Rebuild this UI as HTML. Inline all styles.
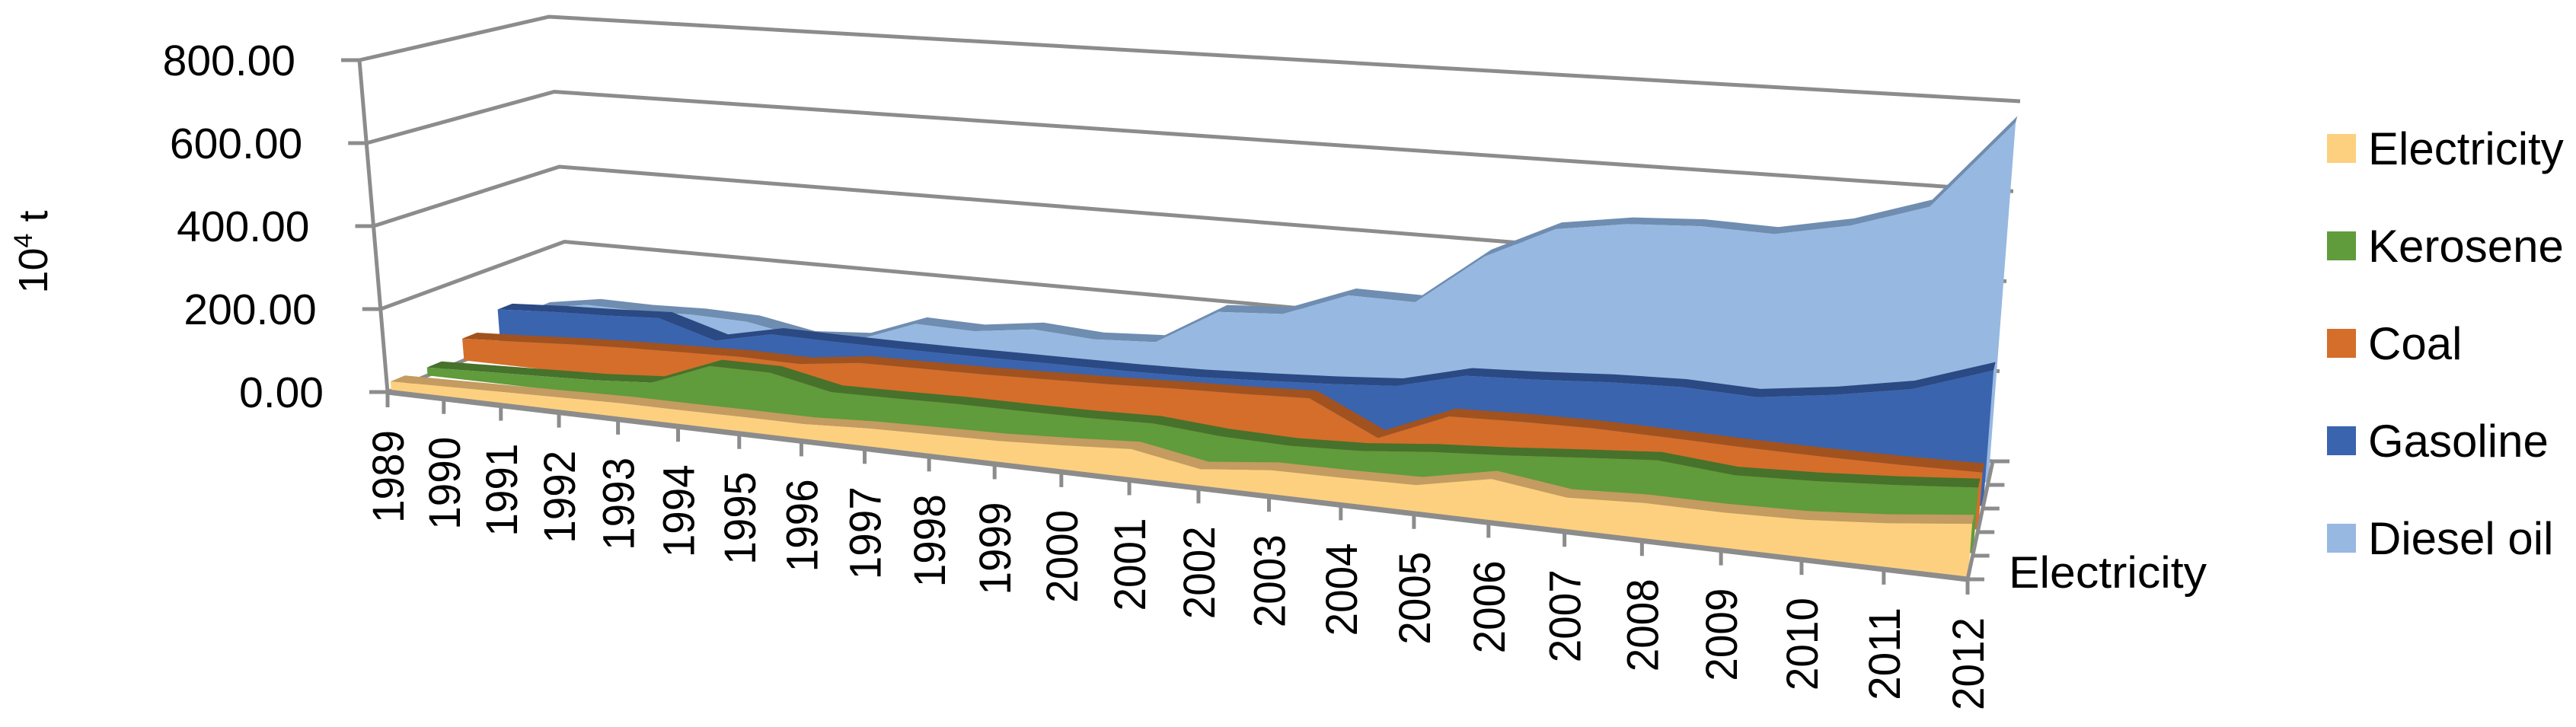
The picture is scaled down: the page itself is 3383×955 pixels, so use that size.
<!DOCTYPE html>
<html><head><meta charset="utf-8"><style>
html,body{margin:0;padding:0;background:#fff;}
svg{display:block;font-family:"Liberation Sans",sans-serif;}
</style></head><body>
<svg id="chart" width="3383" height="955" viewBox="0 0 3383 955" xmlns="http://www.w3.org/2000/svg">
<g id="grid"></g>
<g id="series"></g>
<g id="axes"></g>
<text transform="translate(62,331) rotate(-90)" text-anchor="middle" font-size="54" fill="#000">10<tspan font-size="34" dy="-20">4</tspan><tspan dy="20"> t</tspan></text>
<g id="legend"></g>
</svg>
<script>
const years = ["1989","1990","1991","1992","1993","1994","1995","1996","1997","1998","1999","2000","2001","2002","2003","2004","2005","2006","2007","2008","2009","2010","2011","2012"];
const seriesNames = ["Electricity","Kerosene","Coal","Gasoline","Diesel oil"];
const electricity = [22,25,28,31,34,34,35,35,42,45,48,55,64,37,53,54,57,88,67,74,73,77,89,107];
const kerosene = [20,25,30,35,45,100,100,70,72,75,75,76,80,68,64,70,85,95,108,120,106,112,122,135];
const coal = [55,62,70,76,80,84,82,100,102,104,108,112,118,122,128,55,120,125,127,124,120,118,118,120];
const gasoline = [92,100,105,112,70,100,98,97,97,98,99,100,103,110,118,129,168,175,185,190,184,205,234,290];
const diesel = [58,80,78,82,78,52,62,115,111,130,120,128,215,224,282,280,400,476,500,508,503,535,589,785];
const yTicks = [0,200,400,600,800];
const yTickLabels = ["0.00","200.00","400.00","600.00","800.00"];
const depthLabel = "Electricity";

const NS = "http://www.w3.org/2000/svg";
const VMAX = 800;
function lerp(a,b,t){return a+(b-a)*t;}
function U(i){const t=i/(years.length-1);return t/(1.233-0.233*t);}
function P(u,z,v){
  const fx=lerp(lerp(509,2584,u),lerp(748,2617,u),z);
  const fy=lerp(lerp(515,761,u),lerp(416,606,u),z);
  const H=lerp(lerp(436,523,u),lerp(394,473,u),z)/VMAX;
  const DX=lerp(lerp(-37,40,u),lerp(-27,36,u),z)/VMAX;
  return [fx+DX*v, fy-H*v];
}
function pts(a){return a.map(p=>p[0].toFixed(1)+","+p[1].toFixed(1)).join(" ");}
function mk(tag,attrs,parent){const e=document.createElementNS(NS,tag);for(const k in attrs)e.setAttribute(k,attrs[k]);parent.appendChild(e);return e;}

const grid=document.getElementById("grid");
yTicks.forEach((v,j)=>{
  const a=P(0,0,v),b=P(0,1,v),c=P(1,1,v);
  const g=mk("polyline",{points:pts([a,b,c]),fill:"none",stroke:"#8c8c8c","stroke-width":5},grid);
  
  
});

const sg=document.getElementById("series");
const data=[electricity,kerosene,coal,gasoline,diesel];
const fronts=["#FDD07F","#609B3C","#D46E2A","#3A64AE","#97B8E0"];
const tops=["#C49B60","#46722C","#A1521F","#2B4983","#6F8DB1"];
for(let k=data.length-1;k>=0;k--){
  const vals=data[k];
  const z0=(k+0.1)/5, z1=z0+0.08;
  const front=vals.map((v,i)=>P(U(i),z0,v));
  const back=vals.map((v,i)=>P(U(i),z1,v));
  const t=mk("polygon",{points:pts(front.concat(back.slice().reverse())),fill:tops[k]},sg);
  
  
  const f=mk("polygon",{points:pts(front.concat([P(1,z0,0),P(0,z0,0)])),fill:fronts[k]},sg);
  
  
}

const ax=document.getElementById("axes");
// value axis
let l=mk("line",{x1:P(0,0,0)[0],y1:P(0,0,0)[1],x2:P(0,0,VMAX)[0],y2:P(0,0,VMAX)[1],stroke:"#8c8c8c","stroke-width":5},ax);


yTicks.forEach((v,j)=>{
  const p=P(0,0,v);
  const tk=mk("line",{x1:p[0]-24,y1:p[1],x2:p[0],y2:p[1],stroke:"#8c8c8c","stroke-width":5},ax);
  
  
  const tx=mk("text",{x:p[0]-84,y:p[1]+20,"text-anchor":"end","font-size":57,fill:"#000"},ax);
  tx.textContent=yTickLabels[j];
  
  
});
// front floor edge (category axis)
l=mk("line",{x1:P(0,0,0)[0],y1:P(0,0,0)[1],x2:P(1,0,0)[0],y2:P(1,0,0)[1],stroke:"#8c8c8c","stroke-width":7},ax);


years.forEach((y,i)=>{
  const p=P(U(i),0,0);
  const tk=mk("line",{x1:p[0],y1:p[1],x2:p[0],y2:p[1]+20,stroke:"#8c8c8c","stroke-width":5},ax);
  
  
  const tx=mk("text",{transform:"translate("+(p[0]+21).toFixed(1)+","+(p[1]+50).toFixed(1)+") rotate(-90)","text-anchor":"end","font-size":58,fill:"#000",textLength:122,lengthAdjust:"spacingAndGlyphs"},ax);
  tx.textContent=y;
  
  
});
// depth axis
l=mk("line",{x1:P(1,0,0)[0],y1:P(1,0,0)[1],x2:P(1,1,0)[0],y2:P(1,1,0)[1],stroke:"#8c8c8c","stroke-width":5},ax);


for(let k=0;k<=5;k++){
  const p=P(1,k/5,0);
  const tk=mk("line",{x1:p[0],y1:p[1],x2:p[0]+22,y2:p[1],stroke:"#8c8c8c","stroke-width":5},ax);
  
  
}
const dl=mk("text",{x:2638,y:772,"font-size":58,fill:"#000",textLength:260,lengthAdjust:"spacingAndGlyphs"},ax);
dl.textContent=depthLabel;



// legend
const lg=document.getElementById("legend");
seriesNames.forEach((n,k)=>{
  const cy=195+128*k;
  const r=mk("rect",{x:3056,y:cy-19,width:38,height:38,fill:fronts[k]},lg);
  
  
  const t=mk("text",{x:3110,y:cy+21,"font-size":60,fill:"#000"},lg);
  t.textContent=n;
  
  
});
</script>
</body></html>
